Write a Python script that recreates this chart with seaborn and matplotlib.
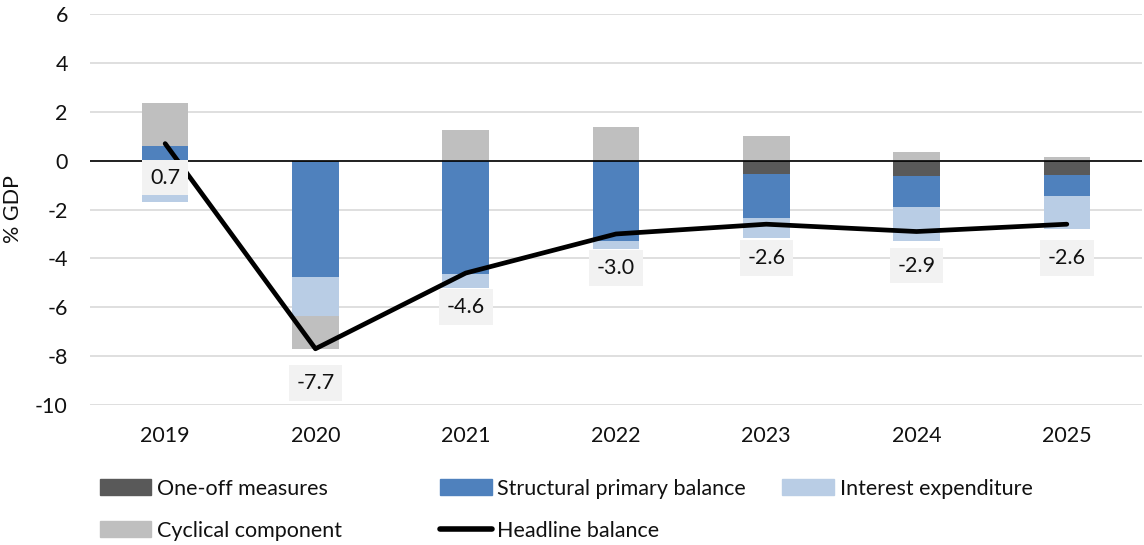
import numpy as np
import matplotlib.pyplot as plt
import seaborn as sns
from matplotlib.patches import Patch
from matplotlib.lines import Line2D

years = ["2019", "2020", "2021", "2022", "2023", "2024", "2025"]
one_off = [0.0, -0.07, 0.0, 0.0, -0.53, -0.61, -0.57]
structural = [0.61, -4.69, -4.64, -3.29, -1.81, -1.29, -0.86]
interest = [-1.69, -1.61, -0.57, -0.33, -0.82, -1.38, -1.37]
cyclical = [1.74, -1.32, 1.24, 1.40, 1.02, 0.37, 0.15]
headline = [0.7, -7.7, -4.6, -3.0, -2.6, -2.9, -2.6]

series_names = ["One-off measures", "Structural primary balance",
                "Interest expenditure", "Cyclical component"]
series_colors = ["#595959", "#4F81BD", "#B9CDE5", "#BFBFBF"]

sns.set_style("white")
plt.rcParams["font.family"] = ["Lato", "DejaVu Sans"]
plt.rcParams["axes.unicode_minus"] = False

FS = 15.5

fig = plt.figure(figsize=(11.44, 5.45), dpi=100)
ax = fig.add_axes([0.0787, 0.257, 0.9195, 0.717])

layers = [np.array(v) for v in (one_off, structural, interest, cyclical)]
pos_cum = np.cumsum([np.clip(v, 0, None) for v in layers], axis=0)
neg_cum = np.cumsum([np.clip(v, None, 0) for v in layers], axis=0)

# stacked bars: draw outer layers first, inner ones on top (pos and neg separately)
for i in reversed(range(len(layers))):
    up = np.where(layers[i] > 0, pos_cum[i], 0)
    down = np.where(layers[i] < 0, neg_cum[i], 0)
    for h in (up, down):
        sns.barplot(x=years, y=h, color=series_colors[i], saturation=1,
                    width=0.31, errorbar=None, linewidth=0, ax=ax, zorder=2)

ax.axhline(0, color="black", lw=1.2, zorder=3)

sns.lineplot(x=np.arange(len(years)), y=headline, color="black", lw=3.4,
             ax=ax, zorder=4)

for xi, v in enumerate(headline):
    ax.annotate(f"{v:.1f}", (xi, v), xytext=(0, -24.5), textcoords="offset points",
                ha="center", va="center", fontsize=FS, color="#111111",
                bbox=dict(boxstyle="square,pad=0.36", fc="#F2F2F2", ec="none"),
                zorder=5)

ax.set_ylim(-10, 6)
ax.set_yticks(range(-10, 7, 2))
ax.set_xlim(-0.5, len(years) - 0.5)
ax.grid(axis="y", color="#D9D9D9", lw=1.2)
ax.set_axisbelow(True)
for s in ax.spines.values():
    s.set_visible(False)
ax.tick_params(axis="x", length=0, labelsize=FS, labelcolor="#111111", pad=15)
ax.tick_params(axis="y", length=0, labelsize=FS, labelcolor="#111111", pad=16)
ax.set_xlabel("")
ax.set_ylabel("% GDP", fontsize=FS, color="#111111")
ax.yaxis.set_label_coords(-0.064, 0.5)

# legend entries placed like the original layout
entries = [
    (Patch(color=series_colors[0]), series_names[0], 0.087, 0.103),
    (Patch(color=series_colors[1]), series_names[1], 0.385, 0.103),
    (Patch(color=series_colors[2]), series_names[2], 0.684, 0.103),
    (Patch(color=series_colors[3]), series_names[3], 0.087, 0.026),
    (Line2D([], [], color="black", lw=4), "Headline balance", 0.385, 0.026),
]
for handle, label, lx, ly in entries:
    leg = fig.legend([handle], [label], loc="center left", bbox_to_anchor=(lx, ly),
                     frameon=False, fontsize=FS, handlelength=2.4, handleheight=0.75,
                     handletextpad=0.25, borderpad=0, borderaxespad=0)
    for t in leg.get_texts():
        t.set_color("#111111")

fig.savefig("out.png", dpi=100)
